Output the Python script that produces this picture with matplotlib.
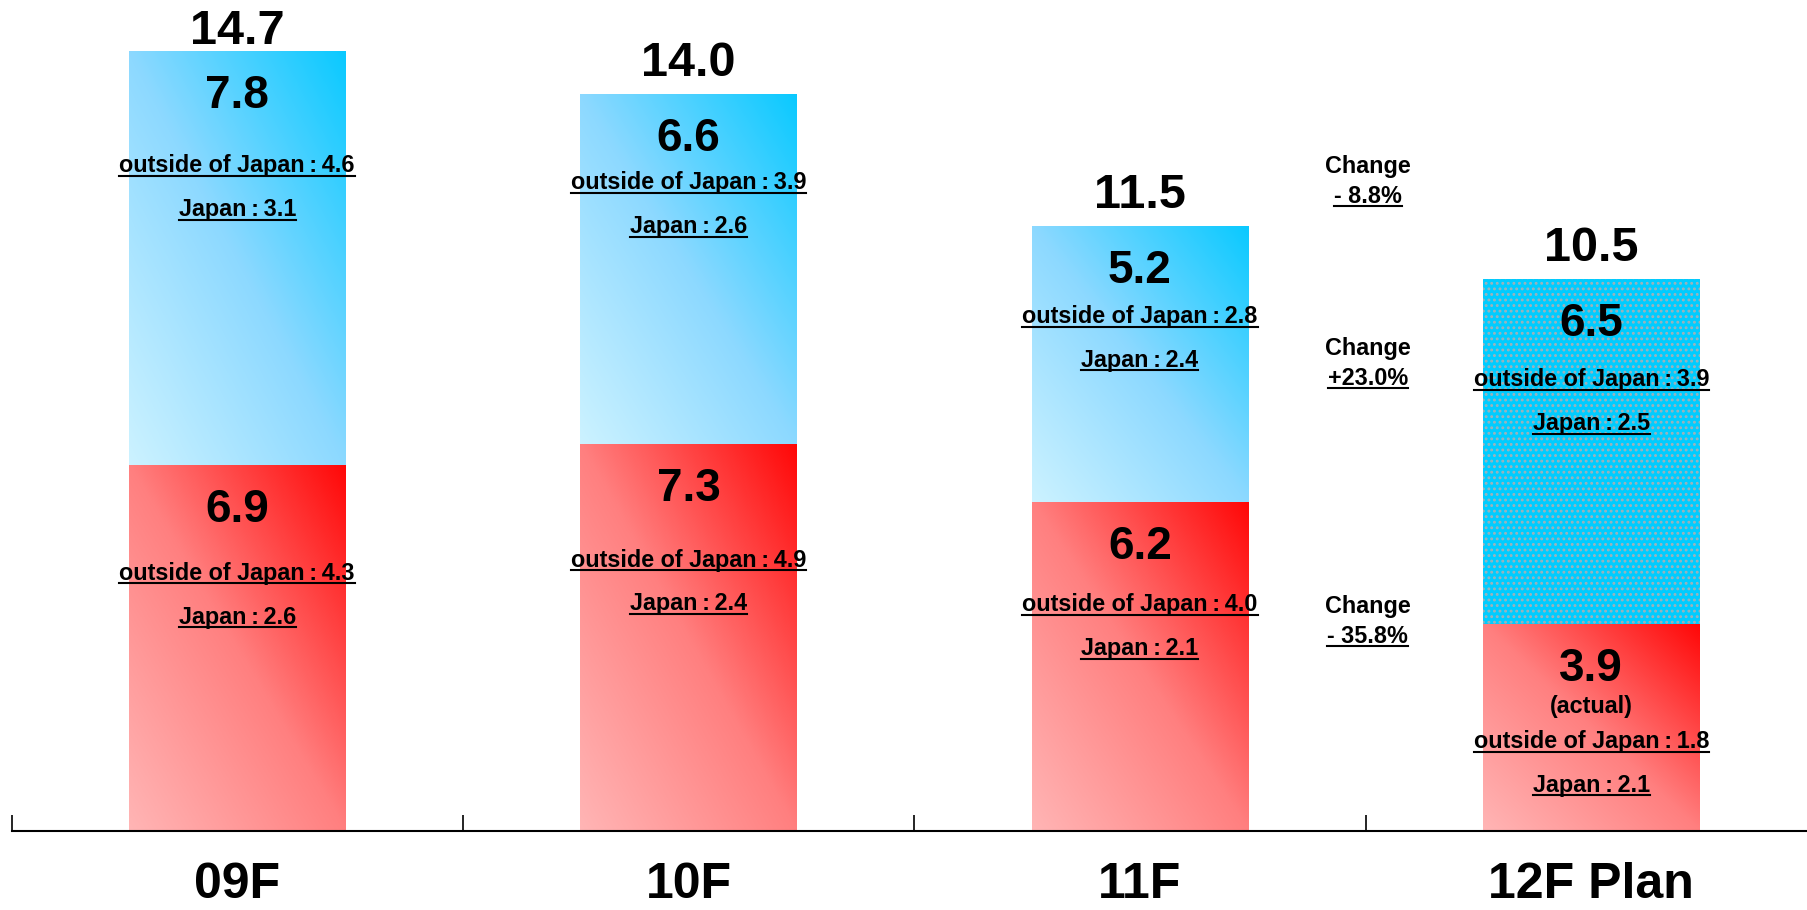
import numpy as np
import matplotlib
matplotlib.use("Agg")
import matplotlib.pyplot as plt
from matplotlib.colors import LinearSegmentedColormap
from matplotlib.lines import Line2D
from matplotlib.transforms import IdentityTransform

# ---------------- data ----------------
categories = ['09F', '10F', '11F', '12F Plan']
lower_vals = [6.9, 7.3, 6.2, 3.9]          # red segment
upper_vals = [7.8, 6.6, 5.2, 6.5]          # blue segment
totals = [14.7, 14.0, 11.5, 10.5]
lower_outside = [4.3, 4.9, 4.0, 1.8]
lower_japan = [2.6, 2.4, 2.1, 2.1]
upper_outside = [4.6, 3.9, 2.8, 3.9]
upper_japan = [3.1, 2.6, 2.4, 2.5]
lower_notes = ['', '', '', '(actual)']
upper_planned = [False, False, False, True]
change_labels = ['- 8.8%', '+23.0%', '- 35.8%']

# ---------------- layout / style ----------------
FONT = ['Liberation Sans', 'DejaVu Sans']
plt.rcParams['font.family'] = FONT
plt.rcParams['hatch.linewidth'] = 1.3

W, H, DPI = 18.07, 9.10, 100
fig = plt.figure(figsize=(W, H), dpi=DPI)
ax = fig.add_axes([10 / 1568, 1 - 721 / 790, 1 - 10 / 1568, 721 / 790])

bar_w = 0.48
x = np.arange(len(categories))

red_cmap = LinearSegmentedColormap.from_list(
    'redgrad', [(0.0, (1.0, 0.71, 0.71)), (0.5, (1.0, 0.50, 0.50)), (1.0, (1.0, 0.03, 0.03))])
blue_cmap = LinearSegmentedColormap.from_list(
    'bluegrad', [(0.0, (0.80, 0.95, 1.0)), (0.5, (0.55, 0.85, 1.0)), (1.0, (0.04, 0.79, 1.0))])

u = np.linspace(0, 1, 200)
v = np.linspace(0, 1, 400)
U, V = np.meshgrid(u, v)
T = (U + V) / 2.0


def gradient_segment(xc, bottom, height, cmap):
    img = cmap(T)
    ax.imshow(img, extent=[xc - bar_w / 2, xc + bar_w / 2, bottom, bottom + height],
              origin='lower', aspect='auto', interpolation='bilinear', zorder=1)


for i in range(len(categories)):
    gradient_segment(x[i], 0, lower_vals[i], red_cmap)
    if upper_planned[i]:
        ax.bar(x[i], upper_vals[i], bar_w, bottom=lower_vals[i], color='#00CCFF',
               edgecolor='#9fb2ba', linewidth=0, hatch='...', zorder=1)
    else:
        gradient_segment(x[i], lower_vals[i], upper_vals[i], blue_cmap)

for s in ['top', 'left', 'right']:
    ax.spines[s].set_visible(False)
ax.spines['bottom'].set_linewidth(1.5)
ax.set_yticks([])
ax.set_xticks(x)
ax.set_xticklabels(categories, fontsize=36, fontweight='bold')
ax.tick_params(axis='x', which='major', length=0, pad=23)
ax.set_xticks(np.arange(-0.5, len(categories) - 1, 1.0), minor=True)
ax.tick_params(axis='x', which='minor', direction='in', length=11.5, width=1.2)

ax.set_xlim(-0.5, 3.478)
ax.set_ylim(0, 721 / 46.0)

underlined = []

# per-bar label offsets (points below segment top)
value_off = 28.7
upper_outside_off = [80.5, 62.2, 63.1, 70.5]
lower_outside_off = [76.3, 82.1, 72.2, 83.0]
japan_gap = 31.5
note_off = 58.0
COLON = '\u2009:\u2009'


def lab(xc, ytop, off, text, size, under=False):
    t = ax.annotate(text, xy=(xc, ytop), xytext=(0, -off), textcoords='offset points',
                    ha='center', va='center_baseline', fontsize=size, fontweight='bold',
                    color='black', zorder=5, annotation_clip=False)
    if under:
        underlined.append(t)
    return t


for i in range(len(categories)):
    top_total = lower_vals[i] + upper_vals[i]
    # total above the bar
    ax.annotate(f'{totals[i]:.1f}', xy=(x[i], min(top_total + 0.34, 14.85)),
                ha='center', va='baseline', fontsize=35, fontweight='bold', zorder=5,
                annotation_clip=False)
    # upper segment
    lab(x[i], top_total, value_off, f'{upper_vals[i]:.1f}', 33)
    lab(x[i], top_total, upper_outside_off[i], f'outside of Japan{COLON}{upper_outside[i]:.1f}', 16.8, True)
    lab(x[i], top_total, upper_outside_off[i] + japan_gap, f'Japan{COLON}{upper_japan[i]:.1f}', 16.8, True)
    # lower segment
    lab(x[i], lower_vals[i], value_off, f'{lower_vals[i]:.1f}', 33)
    if lower_notes[i]:
        lab(x[i], lower_vals[i], note_off, lower_notes[i], 16.8)
    lab(x[i], lower_vals[i], lower_outside_off[i], f'outside of Japan{COLON}{lower_outside[i]:.1f}', 16.8, True)
    lab(x[i], lower_vals[i], lower_outside_off[i] + japan_gap, f'Japan{COLON}{lower_japan[i]:.1f}', 16.8, True)

# change annotations between 11F and 12F Plan
change_x = 2.505
change_y = [12.30, 8.87, 4.0]
for cy, ctext in zip(change_y, change_labels):
    ax.annotate('Change', xy=(change_x, cy), xytext=(0, 10.8), textcoords='offset points',
                ha='center', va='center_baseline', fontsize=16.8, fontweight='bold')
    t = ax.annotate(ctext, xy=(change_x, cy), xytext=(0, -10.8), textcoords='offset points',
                    ha='center', va='center_baseline', fontsize=16.8, fontweight='bold')
    underlined.append(t)

fig.canvas.draw()
renderer = fig.canvas.get_renderer()
for t in underlined:
    bb = t.get_window_extent(renderer)
    yline = bb.y0 + 1.5
    fig.add_artist(Line2D([bb.x0, bb.x1], [yline, yline], transform=IdentityTransform(),
                          color='black', linewidth=1.5, zorder=6))

fig.savefig('out.png', dpi=DPI, facecolor='white')
